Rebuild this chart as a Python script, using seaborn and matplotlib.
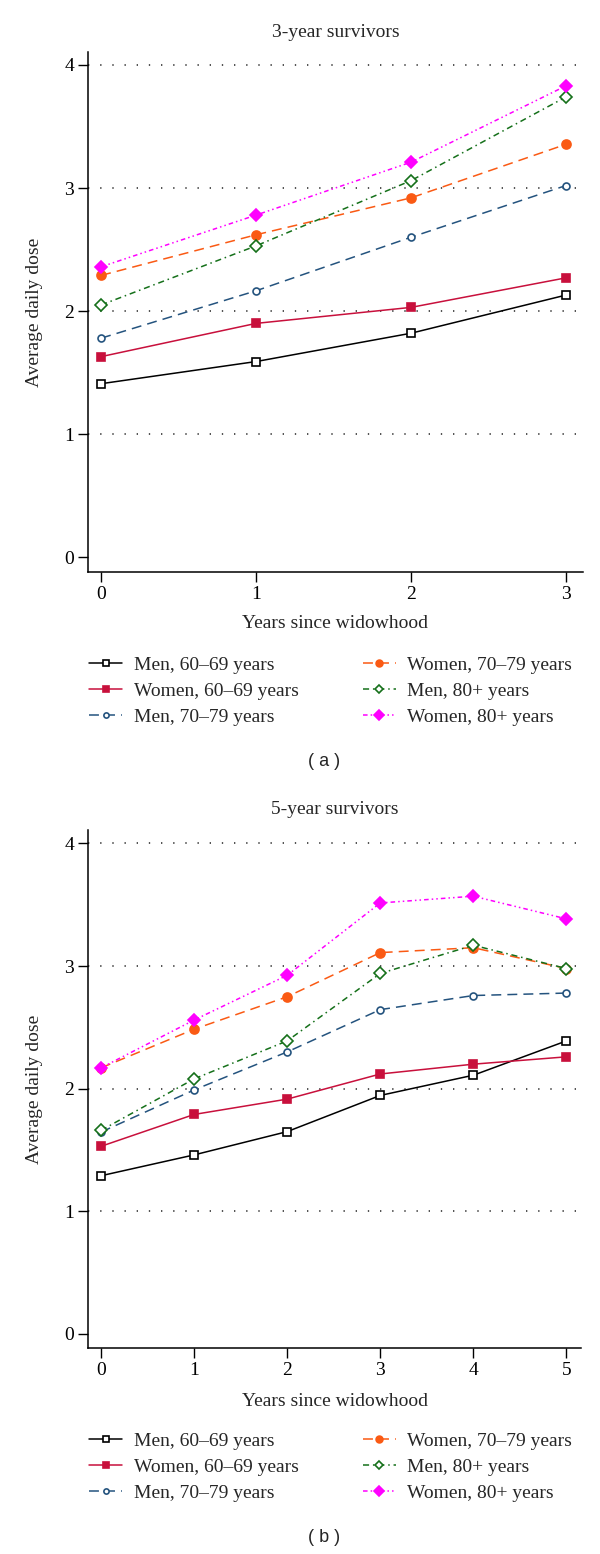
import matplotlib
matplotlib.use("Agg")
import matplotlib.pyplot as plt
import seaborn as sns
import pandas as pd

sns.set_style("ticks")
plt.rcParams['font.family'] = ['Liberation Serif', 'DejaVu Serif']

# ---------------- data ----------------
groups = ["Men, 60\u201369 years", "Women, 60\u201369 years", "Men, 70\u201379 years",
          "Women, 70\u201379 years", "Men, 80+ years", "Women, 80+ years"]

years_a = [0, 1, 2, 3]
men_60_a = [1.41, 1.59, 1.82, 2.13]
women_60_a = [1.63, 1.90, 2.03, 2.27]
men_70_a = [1.78, 2.165, 2.60, 3.02]
women_70_a = [2.29, 2.62, 2.92, 3.355]
men_80_a = [2.05, 2.53, 3.06, 3.74]
women_80_a = [2.36, 2.78, 3.21, 3.83]

years_b = [0, 1, 2, 3, 4, 5]
men_60_b = [1.29, 1.46, 1.65, 1.945, 2.11, 2.39]
women_60_b = [1.53, 1.79, 1.915, 2.12, 2.20, 2.26]
men_70_b = [1.646, 1.99, 2.30, 2.645, 2.76, 2.78]
women_70_b = [2.17, 2.485, 2.75, 3.11, 3.15, 2.98]
men_80_b = [1.66, 2.08, 2.39, 2.94, 3.17, 2.98]
women_80_b = [2.17, 2.56, 2.925, 3.515, 3.57, 3.385]

y_ticks = [0, 1, 2, 3, 4]
titles = ["3-year survivors", "5-year survivors"]
panel_labels = ["( a )", "( b )"]
x_label = "Years since widowhood"
y_label = "Average daily dose"

# ---------------- styles ----------------
styles = [
    dict(color="#000000", marker="s", ms=6.0, mfc="white", ls="-"),
    dict(color="#c8103c", marker="s", ms=6.0, mfc="#c8103c", ls="-"),
    dict(color="#24537e", marker="o", ms=5.0, mfc="white", ls=(0, (6.5, 4))),
    dict(color="#fa5a14", marker="o", ms=6.5, mfc="#fa5a14", ls=(0, (6.5, 4))),
    dict(color="#15701a", marker="D", ms=6.0, mfc="white", ls=(0, (4, 2.5, 1, 2.5))),
    dict(color="#ff00ff", marker="D", ms=6.5, mfc="#ff00ff", ls=(0, (3, 2, 1, 2, 1, 2))),
]

fig = plt.figure(figsize=(6.0, 15.54), dpi=100)

panels = [
    dict(years=years_a, series=[men_60_a, women_60_a, men_70_a, women_70_a, men_80_a, women_80_a],
         rect=[88/600, 1-572/1554, 495/600, 520/1554], xlim=(-0.085, 3.11), ylim=(-0.12, 4.105),
         title_pad=11, xlab_y=-0.083, leg_top=1-656/1554, plabel_y=1-762/1554),
    dict(years=years_b, series=[men_60_b, women_60_b, men_70_b, women_70_b, men_80_b, women_80_b],
         rect=[88/600, 1-1348/1554, 493/600, 518/1554], xlim=(-0.14, 5.156), ylim=(-0.115, 4.11),
         title_pad=11.5, xlab_y=-0.087, leg_top=1-1432/1554, plabel_y=1-1538/1554),
]

FS = 14
for k, p in enumerate(panels):
    ax = fig.add_axes(p["rect"])
    handles = []
    for name, vals, st in zip(groups, p["series"], styles):
        df = pd.DataFrame({"year": p["years"], "dose": vals})
        sns.lineplot(data=df, x="year", y="dose", ax=ax, color=st["color"],
                     marker=st["marker"], markersize=st["ms"], markerfacecolor=st["mfc"],
                     markeredgecolor=st["color"], markeredgewidth=1.2,
                     linestyle=st["ls"], linewidth=1.1, legend=False, label=name)
        handles.append(ax.lines[-1])
    for yv in y_ticks[1:]:
        ax.axhline(yv, color="#333333", lw=1.2, ls=(0, (0.8, 6.5)), zorder=0)
    ax.set_xlim(*p["xlim"])
    ax.set_ylim(*p["ylim"])
    ax.set_xticks(p["years"])
    ax.set_yticks(y_ticks)
    ax.tick_params(axis="both", labelsize=FS, length=7, width=1, direction="out", pad=3, colors="black")
    for s in ["top", "right"]:
        ax.spines[s].set_visible(False)
    for s in ["left", "bottom"]:
        ax.spines[s].set_linewidth(1.1)
        ax.spines[s].set_color("black")
    ax.set_title(titles[k], fontsize=FS, pad=p["title_pad"])
    ax.set_xlabel(x_label, fontsize=FS)
    ax.set_ylabel(y_label, fontsize=FS)
    ax.xaxis.set_label_coords(0.5, p["xlab_y"])
    ax.yaxis.set_label_coords(-0.091, 0.5)
    fig.legend(handles, groups, ncol=2, loc="upper left",
               bbox_to_anchor=(89/600, p["leg_top"]), frameon=False, fontsize=FS,
               handlelength=1.7, handletextpad=0.6, columnspacing=3.3,
               labelspacing=0.43, borderpad=0, borderaxespad=0, markerscale=0.75)
    fig.text(0.54, p["plabel_y"], panel_labels[k], ha="center", va="center",
             fontsize=13, family=["Liberation Sans", "DejaVu Sans"])

fig.savefig("out.png", dpi=100)
